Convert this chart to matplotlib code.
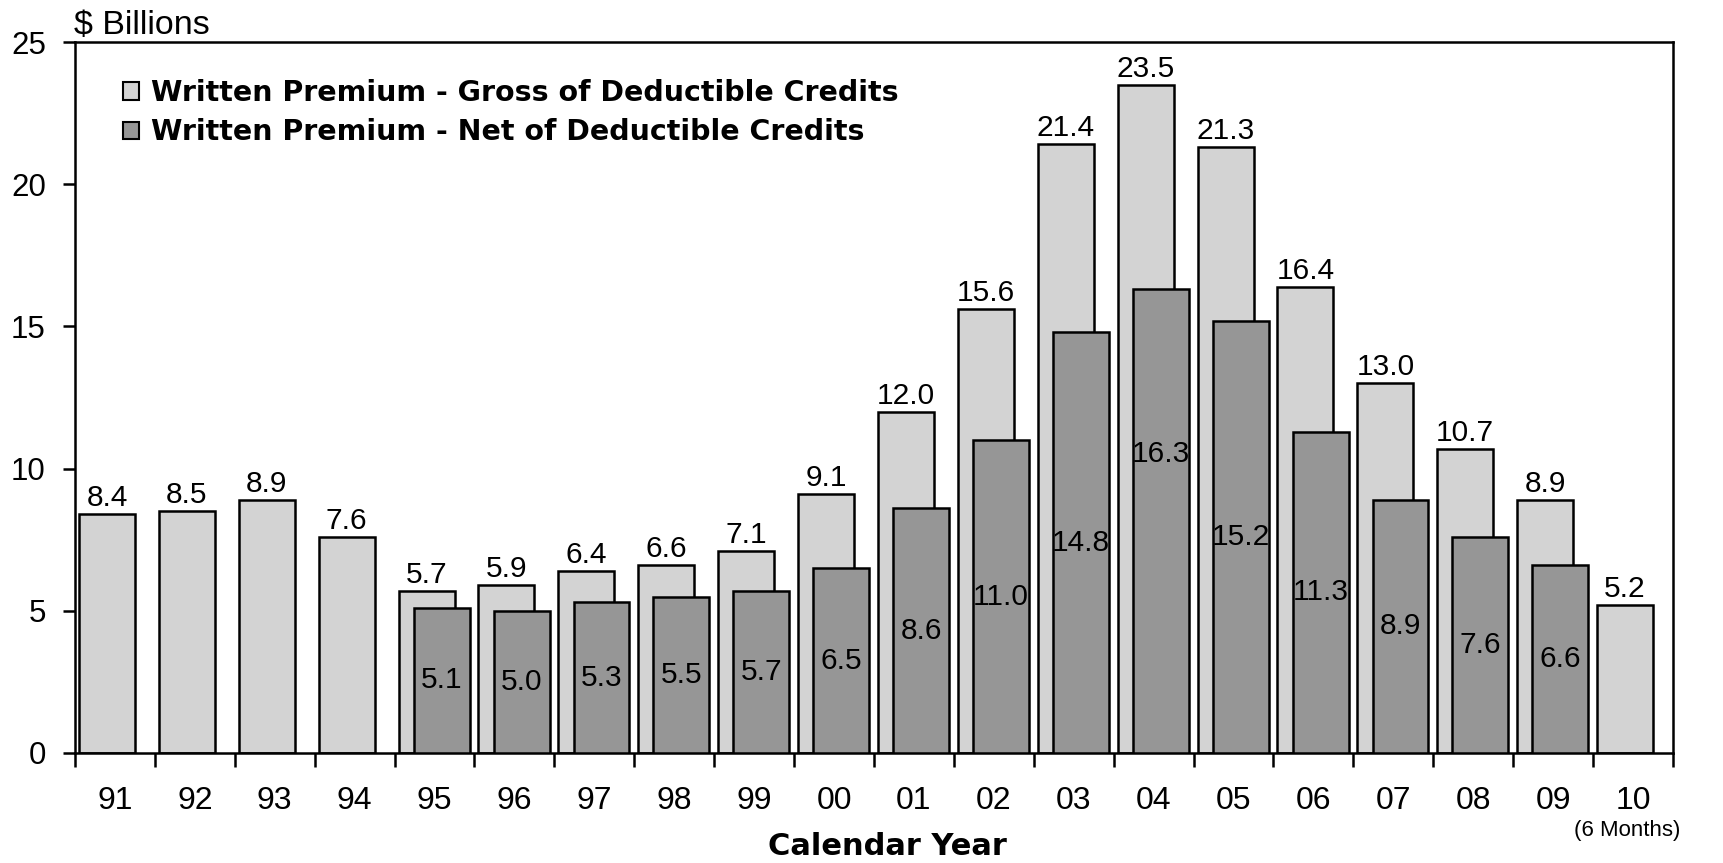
import matplotlib
matplotlib.use("Agg")
import matplotlib.pyplot as plt
import numpy as np
from matplotlib.patches import Patch


YEARS = ["91", "92", "93", "94", "95", "96", "97", "98", "99", "00",
         "01", "02", "03", "04", "05", "06", "07", "08", "09", "10"]

GROSS = [8.4, 8.5, 8.9, 7.6, 5.7, 5.9, 6.4, 6.6, 7.1, 9.1,
         12.0, 15.6, 21.4, 23.5, 21.3, 16.4, 13.0, 10.7, 8.9, 5.2]

# no net figures before 95 or for the partial 2010 year
NET = [None, None, None, None, 5.1, 5.0, 5.3, 5.5, 5.7, 6.5,
       8.6, 11.0, 14.8, 16.3, 15.2, 11.3, 8.9, 7.6, 6.6, None]

GROSS_LABEL = "Written Premium - Gross of Deductible Credits"
NET_LABEL = "Written Premium - Net of Deductible Credits"

GROSS_COLOR = "#d3d3d3"
NET_COLOR = "#969696"

SANS = ["Liberation Sans", "DejaVu Sans"]


def main() -> None:
    fig = plt.figure(figsize=(17.24, 8.63), dpi=100)
    ax = fig.add_axes([0.0435, 0.1275, 0.9269, 0.8238])

    x = np.arange(len(YEARS))
    width = 0.70

    gross_bars = ax.bar(x - 0.10, GROSS, width, color=GROSS_COLOR,
                        edgecolor="black", linewidth=1.8, zorder=2)

    net_x = [xi + 0.09 for xi, v in zip(x, NET) if v is not None]
    net_vals = [v for v in NET if v is not None]
    net_bars = ax.bar(net_x, net_vals, width, color=NET_COLOR,
                      edgecolor="black", linewidth=1.8, zorder=3)

    for bar, val in zip(gross_bars, GROSS):
        ax.annotate(f"{val:.1f}",
                    (bar.get_x() + bar.get_width() / 2, bar.get_height()),
                    xytext=(0, 1.5), textcoords="offset points",
                    ha="center", va="bottom", fontsize=21.5, family=SANS)

    for bar, val in zip(net_bars, net_vals):
        # the 04 label sits higher in the original
        frac = 0.645 if val == 16.3 else 0.5
        ax.text(bar.get_x() + bar.get_width() / 2, bar.get_height() * frac,
                f"{val:.1f}", ha="center", va="center",
                fontsize=21.5, family=SANS, zorder=4)

    ax.set_xlim(-0.5, len(YEARS) - 0.5)
    ax.set_ylim(0, 25)

    # ticks at slot boundaries, labels at slot centres
    ax.set_xticks(np.arange(-0.5, len(YEARS) + 0.5, 1.0))
    ax.set_xticklabels([])
    ax.tick_params(axis="x", which="major", direction="out", length=10,
                   width=1.8)
    ax.set_xticks(x, minor=True)
    ax.set_xticklabels(YEARS, minor=True, fontsize=23, family=SANS)
    ax.tick_params(axis="x", which="minor", length=0, pad=24)

    ax.set_yticks([0, 5, 10, 15, 20, 25])
    ax.set_yticklabels(["0", "5", "10", "15", "20", "25"], fontsize=22.5,
                       family=SANS)
    ax.tick_params(axis="y", direction="out", length=9, width=1.8, pad=12)

    for side in ["left", "right", "top", "bottom"]:
        ax.spines[side].set_linewidth(1.8)

    handles = [
        Patch(facecolor=GROSS_COLOR, edgecolor="black", linewidth=1.5),
        Patch(facecolor=NET_COLOR, edgecolor="black", linewidth=1.5),
    ]
    ax.legend(handles, [GROSS_LABEL, NET_LABEL], loc="upper left",
              bbox_to_anchor=(0.030, 0.948), frameon=False,
              prop={"family": "DejaVu Sans", "weight": "bold", "size": 20.5},
              handlelength=0.55, handleheight=0.55, handletextpad=0.45,
              labelspacing=0.4, borderaxespad=0, borderpad=0)

    fig.text(0.043, 0.971, "$ Billions", fontsize=24.5, family=SANS,
             ha="left", va="center")
    fig.text(0.515, 0.019, "Calendar Year", fontsize=22,
             family="DejaVu Sans", weight="bold", ha="center",
             va="center")
    fig.text(0.944, 0.038, "(6 Months)", fontsize=16, family=SANS,
             ha="center", va="center")

    fig.savefig("out.png", dpi=100)
    plt.close(fig)


if __name__ == "__main__":
    main()
